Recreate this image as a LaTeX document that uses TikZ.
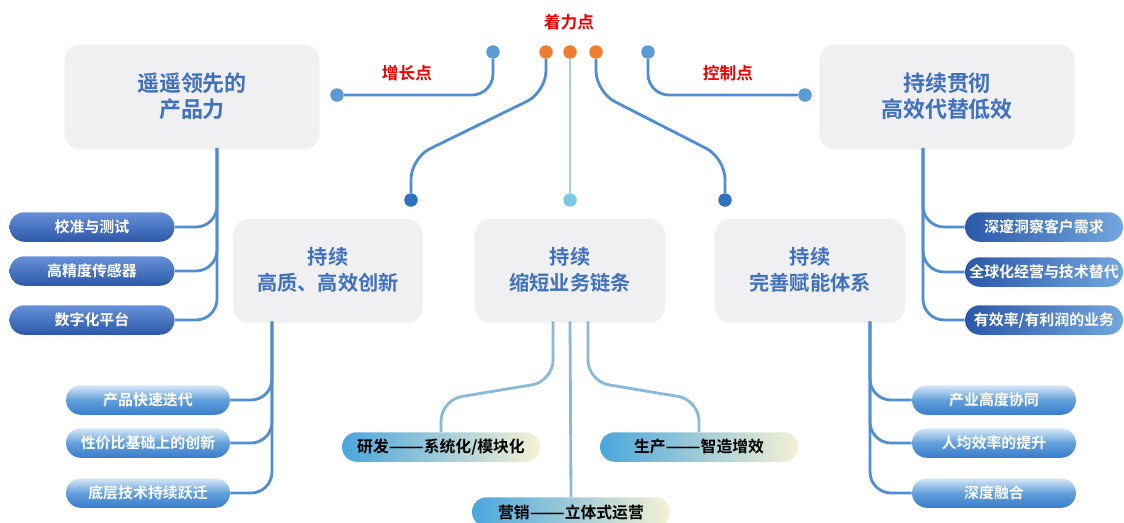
\documentclass[tikz,border=0pt]{standalone}
\usepackage{fontspec}
\usepackage{graphicx}
\setmainfont{Noto Sans CJK SC}[BoldFont={Noto Sans CJK SC Bold}]
\usetikzlibrary{shapes.misc,calc,shadows,backgrounds}
\definecolor{linkblue}{HTML}{4F8ED2}
\definecolor{dotblue}{HTML}{5B9BD5}
\definecolor{deepblue}{HTML}{2E72C0}
\definecolor{dotcyan}{HTML}{7CC6E6}
\definecolor{dotorange}{HTML}{ED7D31}
\definecolor{midgreen}{HTML}{A6CFC8}
\definecolor{midlink}{HTML}{86BAD8}
\definecolor{boxgray}{HTML}{F0F0F2}
\definecolor{titleblue}{HTML}{4070C0}
\definecolor{hotred}{HTML}{F00000}
\definecolor{HTMLa}{HTML}{6690D8}
\definecolor{HTMLb}{HTML}{2B58A8}
\definecolor{HTMLc}{HTML}{D8E8F7}
\definecolor{HTMLd}{HTML}{3A7CCA}
\definecolor{HTMLe}{HTML}{62A0DC}
\definecolor{HTMLf}{HTML}{73A6DE}
\definecolor{HTMLg}{HTML}{4AA6DC}
\definecolor{HTMLh}{HTML}{F5F1D4}
\newcommand{\longdash}{\scalebox{1.3}[1]{——}}

\begin{document}
\begin{tikzpicture}[x=0.02cm,y=-0.02cm,
  link/.style={draw=linkblue,line width=1.6pt,rounded corners=12pt},
  dot/.style={circle,inner sep=0pt,minimum size=0.27cm},
  redlbl/.style={text=hotred,font=\bfseries\fontsize{9.5}{11}\selectfont},
  bigbox/.style={rounded corners=9pt,fill=boxgray,text=titleblue,align=center,
    drop shadow={opacity=0.10,shadow xshift=0pt,shadow yshift=-1.2pt}},
  topbox/.style={bigbox,minimum width=5.1cm,minimum height=2.06cm,
    font=\bfseries\fontsize{12.5}{15}\selectfont},
  midbox/.style={bigbox,minimum width=3.8cm,minimum height=2.04cm,
    font=\bfseries\fontsize{11.5}{15}\selectfont},
  pill/.style={rounded rectangle,minimum height=0.59cm,inner sep=0pt,text=white,
    font=\bfseries\fontsize{8.5}{10}\selectfont},
  darkpill/.style={pill,minimum width=3.3cm,top color=HTMLa,bottom color=HTMLb},
  lightpill/.style={pill,minimum width=3.28cm,top color=HTMLc,bottom color=HTMLd,middle color=HTMLe},
  sidepill/.style={pill,minimum width=3.16cm,left color=HTMLb,right color=HTMLf},
  chainpill/.style={pill,minimum width=3.96cm,text=black,left color=HTMLg,right color=HTMLh,
    font=\bfseries\fontsize{9}{10}\selectfont}
]
\useasboundingbox (0,0) rectangle (1124,522);

% boxes
\node[topbox] (lead) at (192,96) {遥遥领先的\\产品力};
\node[topbox] (sust) at (947,96) {持续贯彻\\高效代替低效};
\node[midbox] (innov) at (328,270) {持续\\高质、高效创新};
\node[midbox] (chain) at (570,270) {持续\\缩短业务链条};
\node[midbox] (enable) at (810,270) {持续\\完善赋能体系};

% labels
\node[redlbl] (focus) at (569,22) {着力点};
\node[redlbl] (grow) at (407,73) {增长点};
\node[redlbl] (ctrl) at (728,73) {控制点};

% dots
\node[dot,fill=dotblue] (g1) at (493,52) {};
\node[dot,fill=dotblue] (g2) at (337,95) {};
\node[dot,fill=dotblue] (c1) at (648,52) {};
\node[dot,fill=dotblue] (c2) at (805,95) {};
\node[dot,fill=dotorange] (o1) at (546,52) {};
\node[dot,fill=dotorange] (o2) at (570,52) {};
\node[dot,fill=dotorange] (o3) at (596,52) {};
\node[dot,fill=deepblue] (e1) at (411,200) {};
\node[dot,fill=dotcyan] (e2) at (570,200) {};
\node[dot,fill=deepblue] (e3) at (725,200) {};

% pills
\node[darkpill] (cal) at (92,227) {校准与测试};
\node[darkpill] (sens) at (92,271) {高精度传感器};
\node[darkpill] (digi) at (92,320) {数字化平台};
\node[lightpill] (iter) at (148,400) {产品快速迭代};
\node[lightpill] (cost) at (148,443) {性价比基础上的创新};
\node[lightpill] (leap) at (148,493) {底层技术持续跃迁};
\node[sidepill] (cust) at (1044,227) {深邃洞察客户需求};
\node[sidepill] (glob) at (1044,272) {全球化经营与技术替代};
\node[sidepill] (prof) at (1044,320) {有效率/有利润的业务};
\node[lightpill] (coop) at (994,400) {产业高度协同};
\node[lightpill] (eff) at (994,443) {人均效率的提升};
\node[lightpill] (fuse) at (994,493) {深度融合};
\node[chainpill] (rd) at (441,447) {研发\longdash 系统化/模块化};
\node[chainpill] (mfg) at (699,447) {生产\longdash 智造增效};
\node[chainpill] (mkt) at (571,512) {营销\longdash 立体式运营};

\begin{scope}[on background layer]
\draw[link] (g1) |- (g2);
\draw[link] (c1) |- (c2);
\draw[link] (o1) -- ($(o1)+(0,40)$) -- ($(e1)+(0,-42)$) -- (e1);
\draw[link] (o3) -- ($(o3)+(0,40)$) -- ($(e3)+(0,-42)$) -- (e3);
\draw[link,draw=midgreen] (o2) -- (e2);

\coordinate (leadt) at ($(lead.south)+(25,0)$);
\coordinate (innovt) at ($(innov.south)+(-56,0)$);
\coordinate (sustt) at ($(sust.south)+(-24,0)$);
\coordinate (enablet) at ($(enable.south)+(60,0)$);
\foreach \p in {cal,sens,digi} \draw[link] (leadt) |- (\p.east);
\foreach \p in {iter,cost,leap} \draw[link] (innovt) |- (\p.east);
\foreach \p in {cust,glob,prof} \draw[link] (sustt) |- (\p.west);
\foreach \p in {coop,eff,fuse} \draw[link] (enablet) |- (\p.west);

\draw[link,draw=midlink] ($(chain.south)+(-17,0)$) -- ++(0,60) -- ($(rd.north)+(0,-32)$) -- (rd.north);
\draw[link,draw=midlink] ($(chain.south)+(18,0)$) -- ++(0,60) -- ($(mfg.north)+(0,-32)$) -- (mfg.north);
\draw[link,draw=midlink] (chain.south) -- (mkt.north);
\end{scope}
\end{tikzpicture}
\end{document}
